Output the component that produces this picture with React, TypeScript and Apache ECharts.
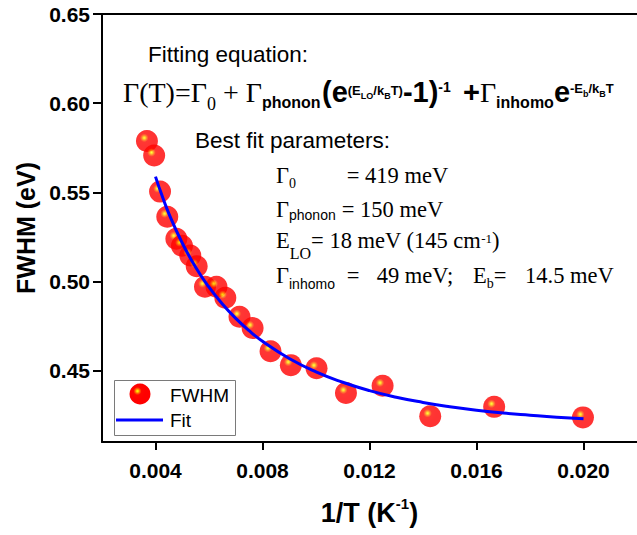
import React, { useEffect, useRef } from "react";
import * as echarts from "echarts";

// Measured FWHM of the emission line vs. inverse temperature
const invT = [
  0.00368, 0.00395, 0.00417, 0.00444, 0.00478, 0.00499, 0.0053, 0.00554,
  0.00585, 0.00628, 0.00661, 0.00714, 0.00763, 0.0083, 0.00906, 0.01002,
  0.01112, 0.01249, 0.01427, 0.01666, 0.01998,
];
const fwhm = [
  0.5788, 0.5706, 0.5504, 0.5363, 0.524, 0.5201, 0.5146, 0.5085, 0.4971,
  0.4971, 0.4909, 0.4802, 0.4739, 0.4609, 0.4531, 0.4513, 0.4375, 0.4415,
  0.4244, 0.4297, 0.4238,
];

// Fitted curve Γ(T)
const fitInvT = [
  0.004, 0.0042, 0.0045, 0.005, 0.0055, 0.006, 0.0065, 0.007, 0.0075, 0.008,
  0.009, 0.01, 0.011, 0.012, 0.013, 0.014, 0.015, 0.016, 0.017, 0.018, 0.019,
  0.02,
];
const fitFwhm = [
  0.5588, 0.55, 0.5381, 0.5216, 0.508, 0.4968, 0.4874, 0.4793, 0.4724, 0.4665,
  0.4568, 0.4493, 0.4435, 0.4388, 0.4351, 0.4322, 0.4298, 0.4278, 0.4262,
  0.425, 0.4239, 0.423,
];

const xTicks = [0.004, 0.008, 0.012, 0.016, 0.02];
const yTicks = [0.45, 0.5, 0.55, 0.6, 0.65];

const SANS = "'Liberation Sans', Arial, sans-serif";
const SERIF = "'Liberation Serif', 'Times New Roman', serif";

// red ball with a small yellow highlight toward the upper left
const sphere = {
  type: "radial",
  x: 0.38,
  y: 0.36,
  r: 0.4,
  colorStops: [
    { offset: 0, color: "#ffff10" },
    { offset: 0.12, color: "#ffd000" },
    { offset: 0.3, color: "#ff5a00" },
    { offset: 0.48, color: "#ff0600" },
    { offset: 1, color: "#ff0000" },
  ],
};

const eqRich = {
  g: { fontFamily: SERIF, fontSize: 28 },
  g0: { fontFamily: SERIF, fontSize: 18, padding: [24, 0, 0, 0] },
  sb: { fontFamily: SANS, fontWeight: "bold", fontSize: 16, padding: [20, 0, 0, 0] },
  B: { fontFamily: SANS, fontWeight: "bold", fontSize: 29 },
  up: { fontFamily: SANS, fontWeight: "bold", fontSize: 13, padding: [0, 0, 3, 0] },
  upsb: { fontFamily: SANS, fontWeight: "bold", fontSize: 9, padding: [7, 0, 0, 0] },
  pw: { fontFamily: SANS, fontWeight: "bold", fontSize: 14, padding: [0, 0, 11, 0] },
  up2: { fontFamily: SANS, fontWeight: "bold", fontSize: 13, padding: [0, 0, 7, 0] },
  upsb2: { fontFamily: SANS, fontWeight: "bold", fontSize: 9, padding: [3, 0, 0, 0] },
};

const parRich = {
  g: { fontFamily: SERIF, fontSize: 22.5 },
  s0: { fontFamily: SERIF, fontSize: 14, padding: [16, 0, 0, 0] },
  sp: { fontFamily: SANS, fontSize: 14, padding: [12, 0, 0, 0] },
  si: { fontFamily: SANS, fontSize: 14, padding: [16, 0, 0, 0] },
  slo: { fontFamily: SERIF, fontSize: 16, padding: [26, 0, 0, 0] },
  sbb: { fontFamily: SERIF, fontSize: 14, padding: [16, 0, 0, 0] },
  p: { fontFamily: SERIF, fontSize: 13, padding: [0, 0, 4, 0] },
};

function rt(x: number, y: number, text: string, rich: any) {
  return {
    type: "text",
    x,
    y,
    z: 100,
    style: { text, rich, fill: "#000", verticalAlign: "middle", align: "left", lineHeight: 40 },
  };
}

function pt(x: number, y: number, text: string, family: string, size: number) {
  return {
    type: "text",
    x,
    y,
    z: 100,
    style: {
      text,
      fill: "#000",
      fontFamily: family,
      fontSize: size,
      verticalAlign: "middle",
      align: "left",
    },
  };
}

export default function App() {
  const ref = useRef<HTMLDivElement>(null);

  useEffect(() => {
    const chart = echarts.init(ref.current!, undefined, { renderer: "svg" });

    const axisLine = { show: true, lineStyle: { color: "#000", width: 2 } };

    chart.setOption({
      animation: false,
      backgroundColor: "#fff",
      grid: { left: 102, top: 14, right: -8.2, bottom: 85, containLabel: false },
      xAxis: [
        {
          type: "value",
          min: 0.002,
          max: 0.022,
          axisLine,
          splitLine: { show: false },
          axisTick: {
            show: true,
            inside: false,
            length: 8,
            lineStyle: { color: "#000", width: 2 },
            customValues: xTicks,
          },
          axisLabel: {
            customValues: xTicks,
            margin: 18,
            color: "#000",
            fontFamily: SANS,
            fontWeight: "bold",
            fontSize: 21,
            formatter: (v: number) => v.toFixed(3),
          },
          name: "{b|1/T (K}{p|-1}{b|)}",
          nameLocation: "middle",
          nameGap: 56,
          nameTextStyle: {
            rich: {
              b: { fontFamily: SANS, fontWeight: "bold", fontSize: 27, color: "#000", lineHeight: 30 },
              p: {
                fontFamily: SANS,
                fontWeight: "bold",
                fontSize: 15,
                color: "#000",
                lineHeight: 30,
                padding: [0, 0, 19, 0],
              },
            },
          },
        },
        {
          type: "value",
          position: "top",
          min: 0.002,
          max: 0.022,
          axisLine,
          axisTick: { show: false },
          axisLabel: { show: false },
          splitLine: { show: false },
        },
      ],
      yAxis: {
        type: "value",
        min: 0.41,
        max: 0.65,
        axisLine,
        splitLine: { show: false },
        axisTick: {
          show: true,
          inside: false,
          length: 9,
          lineStyle: { color: "#000", width: 2 },
          customValues: yTicks,
        },
        axisLabel: {
          customValues: yTicks,
          margin: 12,
          color: "#000",
          fontFamily: SANS,
          fontWeight: "bold",
          fontSize: 21,
          formatter: (v: number) => v.toFixed(2),
        },
        name: "FWHM (eV)",
        nameLocation: "middle",
        nameGap: 62,
        nameTextStyle: { fontFamily: SANS, fontWeight: "bold", fontSize: 25, color: "#000" },
      },
      series: [
        {
          name: "FWHM",
          type: "scatter",
          symbol: "circle",
          symbolSize: 22,
          itemStyle: { color: sphere },
          data: invT.map((x, i) => [x, fwhm[i]]),
          z: 2,
        },
        {
          name: "Fit",
          type: "line",
          smooth: true,
          showSymbol: false,
          lineStyle: { color: "#0000ff", width: 3 },
          data: fitInvT.map((x, i) => [x, fitFwhm[i]]),
          z: 3,
        },
      ],
      graphic: [
        pt(148, 54.5, "Fitting equation:", SANS, 22.5),
        rt(123, 92.2, "{g|Γ(T)=Γ}{g0|0}{g| + Γ}{sb|phonon}", eqRich),
        rt(322, 92.2, "{B|(e}{up|(E}{upsb|LO}{up|/k}{upsb|B}{up|T)}{B|-1)}{pw|-1}", eqRich),
        rt(463, 92.2, "{B|+}{g|Γ}{sb|inhomo}{B|e}{up2|-E}{upsb2|b}{up2|/k}{upsb2|B}{up2|T}", eqRich),
        pt(195, 140.5, "Best fit parameters:", SANS, 22.5),
        rt(276, 175.4, "{g|Γ}{s0|0}", parRich),
        pt(346.7, 175.4, "= 419 meV", SERIF, 22.5),
        rt(276, 209, "{g|Γ}{sp|phonon}", parRich),
        pt(341.7, 209, "= 150 meV", SERIF, 22.5),
        rt(276, 240.4, "{g|E}{slo|LO}{g|= 18 meV (145 cm}{p|-1}{g|)}", parRich),
        rt(276, 275.7, "{g|Γ}{si|inhomo}", parRich),
        pt(346.7, 275.7, "=", SERIF, 22.5),
        pt(376.7, 275.7, "49 meV;", SERIF, 22.5),
        rt(473, 275.7, "{g|E}{sbb|b}{g|=}", parRich),
        pt(525, 275.7, "14.5 meV", SERIF, 22.5),
        {
          type: "rect",
          z: 90,
          shape: { x: 114.5, y: 380.5, width: 121, height: 55 },
          style: { fill: "#fff", stroke: "#7a7a7a", lineWidth: 1 },
        },
        {
          type: "circle",
          z: 95,
          shape: { cx: 140, cy: 394, r: 10.5 },
          style: { fill: sphere },
        },
        {
          type: "line",
          z: 95,
          shape: { x1: 116, y1: 420, x2: 163, y2: 420 },
          style: { stroke: "#0000ff", lineWidth: 3 },
        },
        pt(170, 395, "FWHM", SANS, 19),
        pt(170, 420, "Fit", SANS, 19),
      ],
    });

    return () => chart.dispose();
  }, []);

  return (
    <div
      ref={ref}
      style={{ position: "fixed", left: 0, top: 0, width: 637, height: 535, background: "#fff" }}
    />
  );
}
